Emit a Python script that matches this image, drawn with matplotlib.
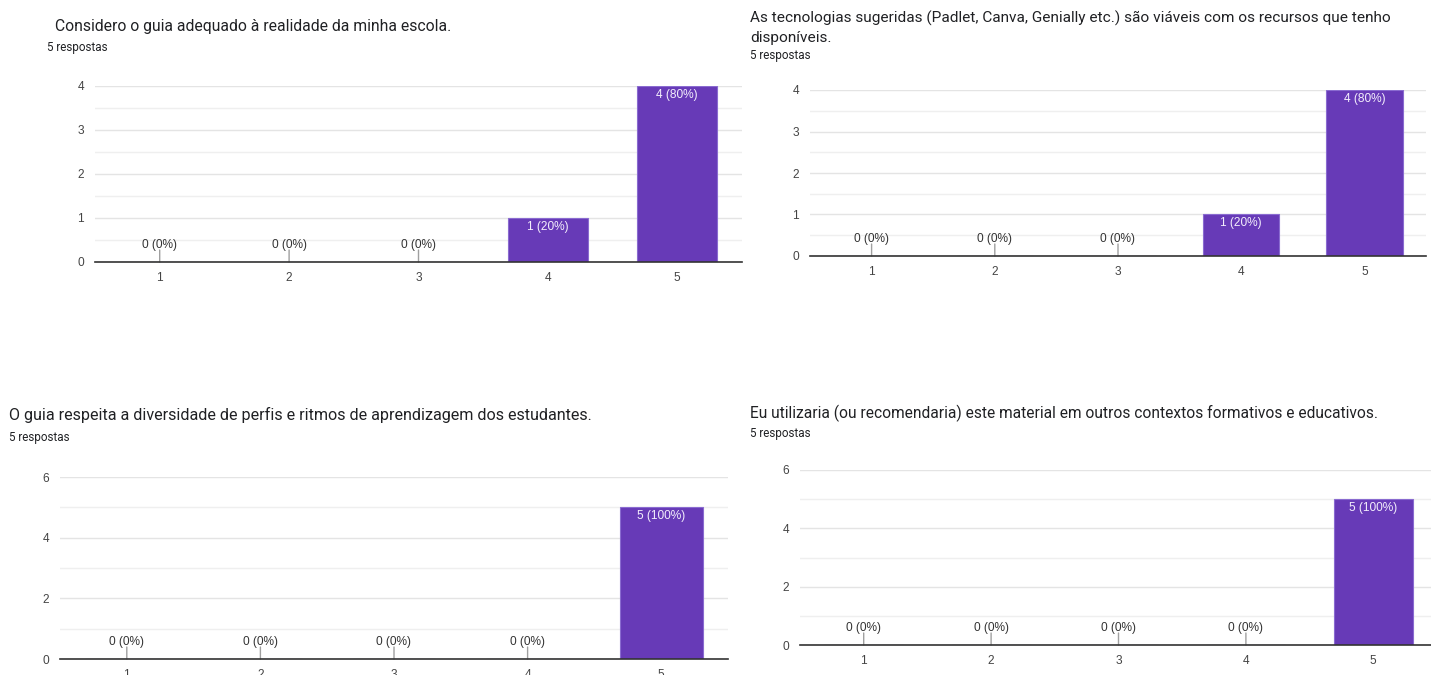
import matplotlib
matplotlib.use("Agg")
import matplotlib.pyplot as plt
from matplotlib.ticker import MultipleLocator

plt.rcParams['font.family'] = ['Roboto', 'DejaVu Sans']
LABEL_FONT = ['Liberation Sans', 'DejaVu Sans']

categories = [1, 2, 3, 4, 5]
titles = [
    "Considero o guia adequado à realidade da minha escola.",
    "As tecnologias sugeridas (Padlet, Canva, Genially etc.) são viáveis com os recursos que tenho\ndisponíveis.",
    "O guia respeita a diversidade de perfis e ritmos de aprendizagem dos estudantes.",
    "Eu utilizaria (ou recomendaria) este material em outros contextos formativos e educativos.",
]
subtitle = "5 respostas"
values_q1 = [0, 0, 0, 1, 4]
values_q2 = [0, 0, 0, 1, 4]
values_q3 = [0, 0, 0, 0, 5]
values_q4 = [0, 0, 0, 0, 5]
percent_q1 = ["0%", "0%", "0%", "20%", "80%"]
percent_q2 = ["0%", "0%", "0%", "20%", "80%"]
percent_q3 = ["0%", "0%", "0%", "0%", "100%"]
percent_q4 = ["0%", "0%", "0%", "0%", "100%"]

W, H = 1431, 675
fig = plt.figure(figsize=(W / 100, H / 100), dpi=100)
fig.patch.set_facecolor('white')

BAR = '#673ab7'

panels = [
    dict(box=(95, 742, 86, 262), ymax=4, step=1, title=(55, 27), tsize=11.3, sub=(47, 47), vals=values_q1, pct=percent_q1),
    dict(box=(810, 1426, 90, 256), ymax=4, step=1, title=(750, 27.5), tsize=11.1, sub=(750, 55), vals=values_q2, pct=percent_q2),
    dict(box=(60, 728, 477, 659), ymax=6, step=2, title=(9, 415), tsize=11.65, sub=(9, 437), vals=values_q3, pct=percent_q3),
    dict(box=(800, 1437, 470, 645), ymax=6, step=2, title=(750, 413), tsize=11.2, sub=(750, 434), vals=values_q4, pct=percent_q4),
]

for i, p in enumerate(panels):
    l, r, t, b = p['box']
    ax = fig.add_axes([l / W, 1 - b / H, (r - l) / W, (b - t) / H])
    ax.set_xlim(0.5, 5.5)
    ax.set_ylim(0, p['ymax'])
    ax.yaxis.set_major_locator(MultipleLocator(p['step']))
    ax.yaxis.set_minor_locator(MultipleLocator(p['step'] / 2))
    ax.grid(True, which='major', axis='y', color='#e4e4e4', lw=1)
    ax.grid(True, which='minor', axis='y', color='#efefef', lw=1)
    ax.set_axisbelow(True)
    for s in ['left', 'right', 'top']:
        ax.spines[s].set_visible(False)
    ax.spines['bottom'].set_color('#333333')
    ax.spines['bottom'].set_linewidth(1.2)
    ax.spines['bottom'].set_zorder(5)
    ax.set_xticks(categories)
    ax.tick_params(axis='both', which='both', length=0, labelsize=8.6, labelcolor='#444444')
    ax.tick_params(axis='x', pad=7)
    ax.tick_params(axis='y', pad=8)
    for lab in ax.get_xticklabels() + ax.get_yticklabels():
        lab.set_family(LABEL_FONT)
    ax.bar(categories, p['vals'], width=0.62, color=BAR, edgecolor='#8a6bd0', linewidth=0.8, zorder=3)
    for x, v, pc in zip(categories, p['vals'], p['pct']):
        lab = f"{v} ({pc})"
        if v == 0:
            ax.annotate('', xy=(x, 0), xytext=(0, 12), textcoords='offset pixels',
                        arrowprops=dict(arrowstyle='-', color='#a0a0a0', lw=1, shrinkA=0, shrinkB=0))
            ax.annotate(lab, xy=(x, 0), xytext=(0, 11), textcoords='offset pixels',
                        ha='center', va='bottom', fontsize=8.6, color='#333333', family=LABEL_FONT)
        else:
            ax.annotate(lab, xy=(x, v), xytext=(0, -3), textcoords='offset pixels',
                        ha='center', va='top', fontsize=8.6, color='#f3eefc', family=LABEL_FONT)
    tx, ty = p['title']
    fig.text(tx / W, 1 - ty / H, titles[i], ha='left', va='center', fontsize=p['tsize'],
             color='#202124', linespacing=1.45)
    sx, sy = p['sub']
    fig.text(sx / W, 1 - sy / H, subtitle, ha='left', va='center', fontsize=8.4, color='#202124')

fig.savefig('out.png', dpi=100, facecolor='white')
